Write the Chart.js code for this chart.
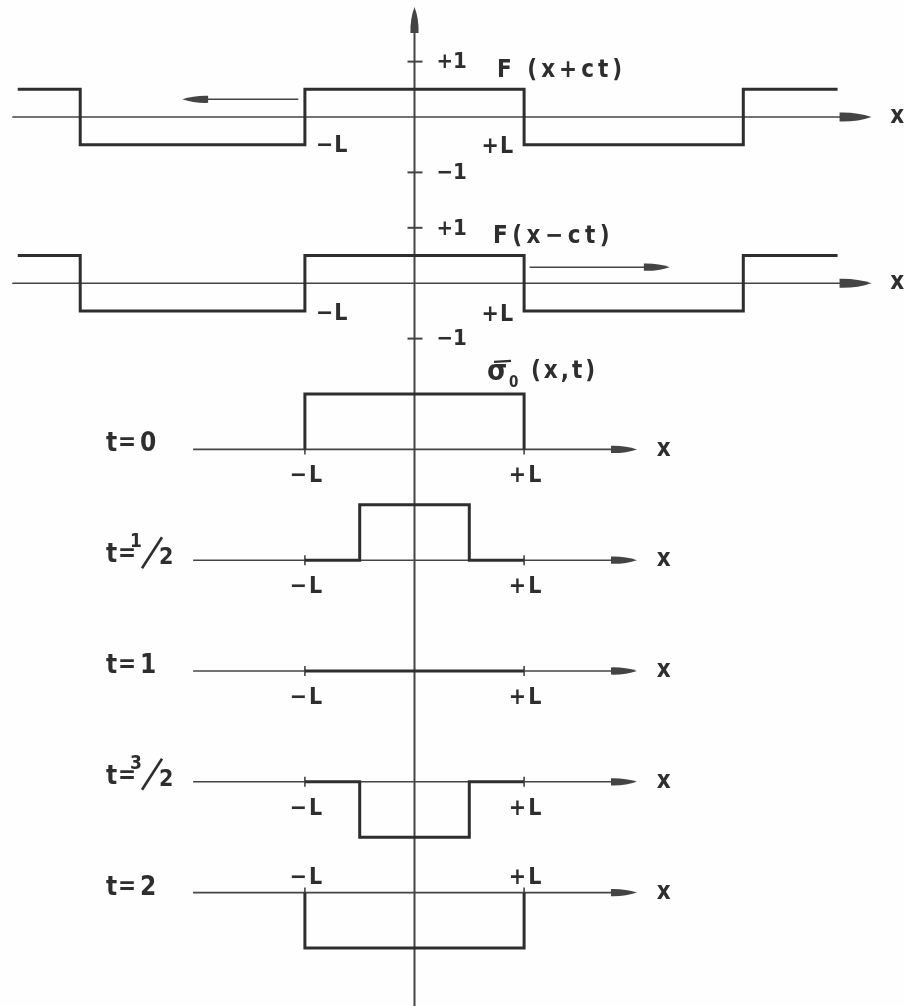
<!DOCTYPE html>
<html>
<head>
<meta charset="utf-8">
<script src="https://cdn.jsdelivr.net/npm/chart.js@4.4.1/dist/chart.umd.min.js"></script>
<style>
  html, body { margin: 0; padding: 0; background: #fefefe; }
  canvas { display: block; }
</style>
</head>
<body>
<canvas id="waves" width="905" height="1006"></canvas>
<script>
// travelling square waves, x measured in units of L
const fEdges = [-3.62, -3.05, -1, 1, 3, 3.86];
const fPlus = [0.5, -0.5, 0.5, -0.5, 0.5];   // F(x+ct)
const fMinus = [0.5, -0.5, 0.5, -0.5, 0.5];  // F(x-ct)
const fTickValues = [1, -1];
const fTickLabels = ['+1', '\u22121'];

// sigma_0(x,t) = F(x+ct) + F(x-ct) on [-L, +L]
const sigmaEdges = [-1, -0.5, 0.5, 1];
const timeLabels = ['0', '1/2', '1', '3/2', '2'];
const sigma0 = [1, 1, 1];
const sigmaHalf = [0, 1, 0];
const sigma1 = [0, 0, 0];
const sigmaThreeHalf = [0, -1, 0];
const sigma2 = [-1, -1, -1];
const xTickValues = [-1, 1];
const xTickLabels = ['\u2212L', '+L'];

// vertical offsets of each row
const fRows = [0, -3];
const sigmaRows = [-6, -8, -10, -12, -14];
const sigmaSeries = [sigma0, sigmaHalf, sigma1, sigmaThreeHalf, sigma2];

const INK = '#2e2e2e';
const AXIS = '#444';
const FONT = '"DejaVu Sans Condensed", "DejaVu Sans", sans-serif';

function waveDataset(data) {
    return {
        data,
        showLine: true,
        stepped: 'before',
        borderColor: INK,
        borderWidth: 3,
        pointRadius: 0,
        fill: false,
        borderJoinStyle: 'miter',
    };
}

// step 'before' joins (x_i, y_i) -> (x_{i+1}, y_i) -> (x_{i+1}, y_{i+1});
// F points carry the value of the interval that starts at them
function fStepPoints(vals, base) {
    const pts = [];
    for (let i = 0; i < vals.length; i++) pts.push({ x: fEdges[i], y: base + vals[i] });
    pts.push({ x: fEdges[fEdges.length - 1], y: base + vals[vals.length - 1] });
    return pts;
}

function sigmaStepPoints(vals, base) {
    const pts = [{ x: sigmaEdges[0], y: base }];
    for (let i = 0; i < vals.length; i++) pts.push({ x: sigmaEdges[i], y: base + vals[i] });
    pts.push({ x: sigmaEdges[sigmaEdges.length - 1], y: base + vals[vals.length - 1] });
    pts.push({ x: sigmaEdges[sigmaEdges.length - 1], y: base });
    return pts;
}

const datasets = [
    waveDataset(fStepPoints(fPlus, fRows[0])),
    waveDataset(fStepPoints(fMinus, fRows[1])),
    ...sigmaSeries.map((s, i) => waveDataset(sigmaStepPoints(s, sigmaRows[i]))),
];

function arrowHead(ctx, tipX, tipY, dx, dy, len, half) {
    // dx, dy: unit direction of the arrow
    const bx = tipX - dx * len, by = tipY - dy * len;
    const nx = -dy, ny = dx;
    ctx.beginPath();
    ctx.moveTo(tipX, tipY);
    ctx.quadraticCurveTo(tipX - dx * len * 0.45 + nx * half, tipY - dy * len * 0.45 + ny * half,
                         bx + nx * half * 0.9, by + ny * half * 0.9);
    ctx.lineTo(bx - nx * half * 0.9, by - ny * half * 0.9);
    ctx.quadraticCurveTo(tipX - dx * len * 0.45 - nx * half, tipY - dy * len * 0.45 - ny * half,
                         tipX, tipY);
    ctx.closePath();
    ctx.fill();
}

function line(ctx, x1, y1, x2, y2, w, color) {
    ctx.beginPath();
    ctx.moveTo(x1, y1);
    ctx.lineTo(x2, y2);
    ctx.lineWidth = w;
    ctx.strokeStyle = color;
    ctx.stroke();
}

function text(ctx, str, x, y, size, align, baseline, spacing) {
    ctx.font = 'bold ' + size + 'px ' + FONT;
    ctx.textAlign = align || 'left';
    ctx.textBaseline = baseline || 'middle';
    ctx.letterSpacing = (spacing || 0) + 'px';
    ctx.fillText(str, x, y);
    ctx.letterSpacing = '0px';
}

const axesPlugin = {
    id: 'axes',
    beforeDatasetsDraw(chart) {
        const { ctx } = chart;
        const xs = chart.scales.x, ys = chart.scales.y;
        const X = v => xs.getPixelForValue(v);
        const Y = v => ys.getPixelForValue(v);
        ctx.save();
        ctx.fillStyle = AXIS;

        // vertical axis with arrow on top
        const x0 = X(0);
        line(ctx, x0, ys.bottom, x0, ys.top + 26, 2, AXIS);
        arrowHead(ctx, x0, ys.top + 7, 0, -1, 26, 4.5);

        // F rows: long axes with ±1 ticks
        fRows.forEach(base => {
            const y = Y(base);
            line(ctx, X(-3.67), y, X(4.0), y, 1.6, AXIS);
            arrowHead(ctx, X(4.17), y, 1, 0, 32, 5);
            fTickValues.forEach(v => line(ctx, x0 - 7, Y(base + v), x0 + 8, Y(base + v), 2, AXIS));
        });

        // sigma rows: short axes with ticks at ±L
        sigmaRows.forEach(base => {
            const y = Y(base);
            line(ctx, X(-2.02), y, X(1.9), y, 1.6, AXIS);
            arrowHead(ctx, X(2.03), y, 1, 0, 26, 4);
            xTickValues.forEach(v => line(ctx, X(v), y - 5, X(v), y + 5, 1.6, AXIS));
        });
        ctx.restore();
    },
    afterDatasetsDraw(chart) {
        const { ctx } = chart;
        const xs = chart.scales.x, ys = chart.scales.y;
        const X = v => xs.getPixelForValue(v);
        const Y = v => ys.getPixelForValue(v);
        const x0 = X(0);
        ctx.save();
        ctx.fillStyle = INK;

        // F rows
        const names = ['F (x+ct)', 'F(x\u2212ct)'];
        fRows.forEach((base, r) => {
            fTickValues.forEach((v, i) => text(ctx, fTickLabels[i], x0 + 22, Y(base + v) + 1, 22, 'left', 'middle'));
            text(ctx, 'x', X(4.34), Y(base), 24, 'left', 'middle');
            text(ctx, names[r], r === 0 ? 497 : 493, Y(base + 0.83), 24, 'left', 'middle', r === 0 ? 4 : 4.5);
            text(ctx, xTickLabels[0], X(-1) + 11, Y(base) + (r === 0 ? 29 : 31), 23, 'left', 'middle', 1);
            text(ctx, xTickLabels[1], X(1) - 10, Y(base) + (r === 0 ? 30 : 32), 23, 'right', 'middle', 1);
        });

        // direction arrows
        const ya = Y(fRows[0] + 0.32);
        line(ctx, X(-1.06), ya, X(-1.9), ya, 1.5, AXIS);
        ctx.fillStyle = AXIS;
        arrowHead(ctx, X(-2.12), ya, -1, 0, 26, 4);
        const yb = Y(fRows[1] + 0.29);
        line(ctx, X(1.05), yb, X(2.1), yb, 1.5, AXIS);
        arrowHead(ctx, X(2.33), yb, 1, 0, 26, 4);
        ctx.fillStyle = INK;

        // sigma_0(x,t) caption
        const yc = Y(sigmaRows[0] + 1.4);
        text(ctx, '\u03c3', 487, yc + 1, 29, 'left', 'middle');
        line(ctx, 494, yc - 10, 511, yc - 11, 2.4, INK);
        text(ctx, '0', 509, yc + 11, 15, 'left', 'middle');
        text(ctx, '(x,t)', 531, yc, 24, 'left', 'middle', 3);

        // sigma rows
        sigmaRows.forEach((base, r) => {
            const y = Y(base);
            const above = r === sigmaRows.length - 1;
            const ly = above ? y - 15 : y + 27;
            xTickLabels.forEach((lab, i) => text(ctx, lab, X(xTickValues[i]) + 2, ly, 23, 'center', 'middle', 2));
            text(ctx, 'x', X(2.21), y, 24, 'left', 'middle');

            const t = timeLabels[r];
            text(ctx, 't', 106, y + 2, 26, 'left', 'alphabetic');
            text(ctx, '=', 118, y + 1, 24, 'left', 'alphabetic');
            if (t.includes('/')) {
                const [num, den] = t.split('/');
                text(ctx, num, 130, y - 13, 19, 'left', 'alphabetic');
                line(ctx, 162, y - 23, 142, y + 8, 2.6, INK);
                text(ctx, den, 159, y + 4, 23, 'left', 'alphabetic');
            } else {
                text(ctx, t, 140, y + 2, 26, 'left', 'alphabetic');
            }
        });
        ctx.restore();
    },
};

const PX_PER_L = 109.6;
const X_ORIGIN = 414.5;
const PX_PER_UNIT = 55.4;
const Y_ORIGIN = 117;

new Chart(document.getElementById('waves'), {
    type: 'scatter',
    data: { datasets },
    options: {
        responsive: false,
        animation: false,
        layout: { padding: 0 },
        plugins: { legend: { display: false }, tooltip: { enabled: false } },
        scales: {
            x: { type: 'linear', display: false, min: -X_ORIGIN / PX_PER_L, max: (905 - X_ORIGIN) / PX_PER_L },
            y: { type: 'linear', display: false, min: -(1006 - Y_ORIGIN) / PX_PER_UNIT, max: Y_ORIGIN / PX_PER_UNIT },
        },
    },
    plugins: [axesPlugin],
});
</script>
</body>
</html>
